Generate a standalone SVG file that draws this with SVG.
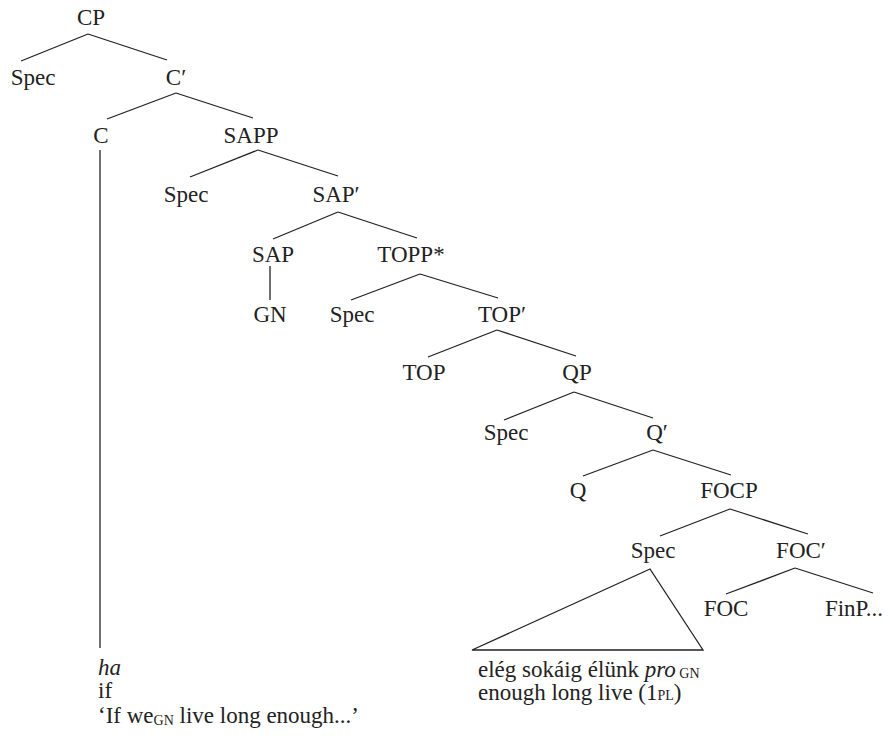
<svg xmlns="http://www.w3.org/2000/svg" width="890" height="740" viewBox="0 0 890 740">
<style>
text{font-size:23px;fill:#222;}
.n text{text-anchor:middle;}
.sc{font-size:14px;}
line,polygon{stroke:#222;stroke-width:1.3;fill:none;}
</style>
<rect width="890" height="740" fill="#fff"/>
<g id="connectors">
<line x1="88" y1="34" x2="21" y2="61"/><line x1="88" y1="34" x2="167" y2="60"/>
<line x1="176" y1="93" x2="107" y2="119"/><line x1="176" y1="93" x2="253" y2="118"/>
<line x1="100" y1="150" x2="100" y2="648"/>
<line x1="258" y1="150" x2="190" y2="177"/><line x1="258" y1="150" x2="338" y2="176"/>
<line x1="338" y1="212" x2="273" y2="239"/><line x1="338" y1="212" x2="417" y2="238"/>
<line x1="270" y1="266" x2="270" y2="300"/>
<line x1="420" y1="274" x2="351" y2="300"/><line x1="420" y1="274" x2="498" y2="298"/>
<line x1="497" y1="330" x2="428" y2="357"/><line x1="497" y1="330" x2="576" y2="356"/>
<line x1="574" y1="392" x2="504" y2="420"/><line x1="574" y1="392" x2="653" y2="418"/>
<line x1="653" y1="450" x2="583" y2="476"/><line x1="653" y1="450" x2="731" y2="475"/>
<line x1="730" y1="509" x2="660" y2="536"/><line x1="730" y1="509" x2="808" y2="534"/>
<line x1="795" y1="568" x2="726" y2="594"/><line x1="795" y1="568" x2="873" y2="593"/>
<polygon points="650,569 472,650 703,650"/>
</g>
<g font-family="Liberation Serif, serif">
<g class="n">
<g id="CP"><text x="91" y="25">CP</text></g>
<g id="Spec1"><text x="33" y="85">Spec</text></g>
<g id="Cbar"><text x="176" y="85">C′</text></g>
<g id="C"><text x="101" y="143">C</text></g>
<g id="SAPP"><text x="251" y="143">SAPP</text></g>
<g id="Spec2"><text x="186" y="202">Spec</text></g>
<g id="SAPbar"><text x="336" y="202">SAP′</text></g>
<g id="SAP"><text x="273" y="262">SAP</text></g>
<g id="TOPP"><text x="411" y="262">TOPP*</text></g>
<g id="GN"><text x="270" y="322">GN</text></g>
<g id="Spec3"><text x="352" y="322">Spec</text></g>
<g id="TOPbar"><text x="502" y="322">TOP′</text></g>
<g id="TOP"><text x="424" y="380">TOP</text></g>
<g id="QP"><text x="577" y="380">QP</text></g>
<g id="Spec4"><text x="506" y="440">Spec</text></g>
<g id="Qbar"><text x="657" y="440">Q′</text></g>
<g id="Q"><text x="578" y="498">Q</text></g>
<g id="FOCP"><text x="729" y="498">FOCP</text></g>
<g id="Spec5"><text x="653" y="558">Spec</text></g>
<g id="FOCbar"><text x="801" y="558">FOC′</text></g>
<g id="FOC"><text x="726" y="616">FOC</text></g>
<g id="FinP"><text x="854" y="616">FinP...</text></g>
</g>
<g id="gloss-left">
<text x="98" y="675" font-style="italic">ha</text>
<text x="98" y="698">if</text>
<text x="98" y="723">‘If we<tspan class="sc" dy="2">GN</tspan><tspan dy="-2"> live long enough...’</tspan></text>
</g>
<g id="gloss-right">
<text x="478" y="677">elég sokáig élünk <tspan font-style="italic">pro</tspan><tspan class="sc" dy="1"> GN</tspan></text>
<text x="478" y="700">enough long live (1<tspan class="sc">PL</tspan>)</text>
</g>
</g>
</svg>
